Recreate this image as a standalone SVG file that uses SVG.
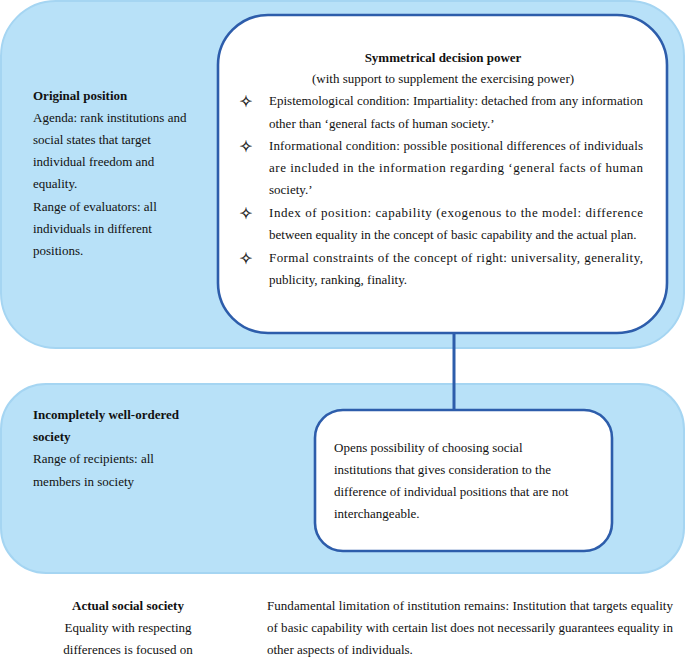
<svg xmlns="http://www.w3.org/2000/svg" width="685" height="662" viewBox="0 0 685 662">
<style>
.blue{fill:#b8e1f8;stroke:#a5d5f2;stroke-width:2}
.white{fill:#ffffff;stroke:#2d5dab;stroke-width:2.6}
.conn{stroke:#2d5dab;stroke-width:3;fill:none}
.t{font-family:'Liberation Serif','DejaVu Serif',serif;font-size:13px;fill:#111}
.b{font-weight:bold}
.m{text-anchor:middle}
.bul{font-family:'DejaVu Sans',sans-serif;font-size:16px;text-anchor:middle;fill:#111;stroke:#111;stroke-width:0.3}
</style>
<rect width="685" height="662" fill="#ffffff"/>
<g id="original-position">
<rect class="blue" x="1" y="1" width="683" height="347" rx="55"/>
<g class="t" font-family="Liberation Serif, serif">
<text class="b" x="33" y="100">Original position</text>
<text x="33" y="122">Agenda: rank institutions and</text>
<text x="33" y="144">social states that target</text>
<text x="33" y="166">individual freedom and</text>
<text x="33" y="188">equality.</text>
<text x="33" y="211">Range of evaluators: all</text>
<text x="33" y="233">individuals in different</text>
<text x="33" y="255">positions.</text>
</g>
</g>
<g id="well-ordered-society">
<rect class="blue" x="1" y="384" width="683" height="189" rx="45"/>
<g class="t" font-family="Liberation Serif, serif">
<text class="b" x="33" y="419">Incompletely well-ordered</text>
<text class="b" x="33" y="441">society</text>
<text x="33" y="463">Range of recipients: all</text>
<text x="33" y="486">members in society</text>
</g>
</g>
<g id="connectors">
<line class="conn" x1="454" y1="333" x2="454" y2="410"/>
</g>
<g id="decision-power">
<rect class="white" x="218" y="15" width="449" height="318" rx="50"/>
<g class="t" font-family="Liberation Serif, serif">
<text class="b m" x="443" y="62">Symmetrical decision power</text>
<text class="m" x="443" y="83">(with support to supplement the exercising power)</text>
<text x="269" y="105" textLength="374" lengthAdjust="spacing">Epistemological condition: Impartiality: detached from any information</text>
<text x="269" y="128">other than ‘general facts of human society.’</text>
<text x="269" y="150" textLength="374" lengthAdjust="spacing">Informational condition: possible positional differences of individuals</text>
<text x="269" y="172" textLength="374" lengthAdjust="spacing">are included in the information regarding ‘general facts of human</text>
<text x="269" y="194">society.’</text>
<text x="269" y="217" textLength="374" lengthAdjust="spacing">Index of position: capability (exogenous to the model: difference</text>
<text x="269" y="239">between equality in the concept of basic capability and the actual plan.</text>
<text x="269" y="262" textLength="374" lengthAdjust="spacing">Formal constraints of the concept of right: universality, generality,</text>
<text x="269" y="284">publicity, ranking, finality.</text>
</g>
<g class="bul">
<text x="246" y="107">✧</text>
<text x="246" y="152">✧</text>
<text x="246" y="219">✧</text>
<text x="246" y="264">✧</text>
</g>
</g>
<g id="opens-possibility">
<rect class="white" x="315" y="410" width="297" height="141" rx="28"/>
<g class="t" font-family="Liberation Serif, serif">
<text x="334" y="452">Opens possibility of choosing social</text>
<text x="334" y="474">institutions that gives consideration to the</text>
<text x="334" y="496">difference of individual positions that are not</text>
<text x="334" y="518">interchangeable.</text>
</g>
</g>
<g id="actual-society">
<g class="t" font-family="Liberation Serif, serif">
<text class="b m" x="128" y="610">Actual social society</text>
<text class="m" x="128" y="632">Equality with respecting</text>
<text class="m" x="128" y="654">differences is focused on</text>
</g>
</g>
<g id="limitation">
<g class="t" font-family="Liberation Serif, serif">
<text x="267" y="610" textLength="406" lengthAdjust="spacing">Fundamental limitation of institution remains: Institution that targets equality</text>
<text x="267" y="632" textLength="406" lengthAdjust="spacing">of basic capability with certain list does not necessarily guarantees equality in</text>
<text x="267" y="654">other aspects of individuals.</text>
</g>
</g>
</svg>
